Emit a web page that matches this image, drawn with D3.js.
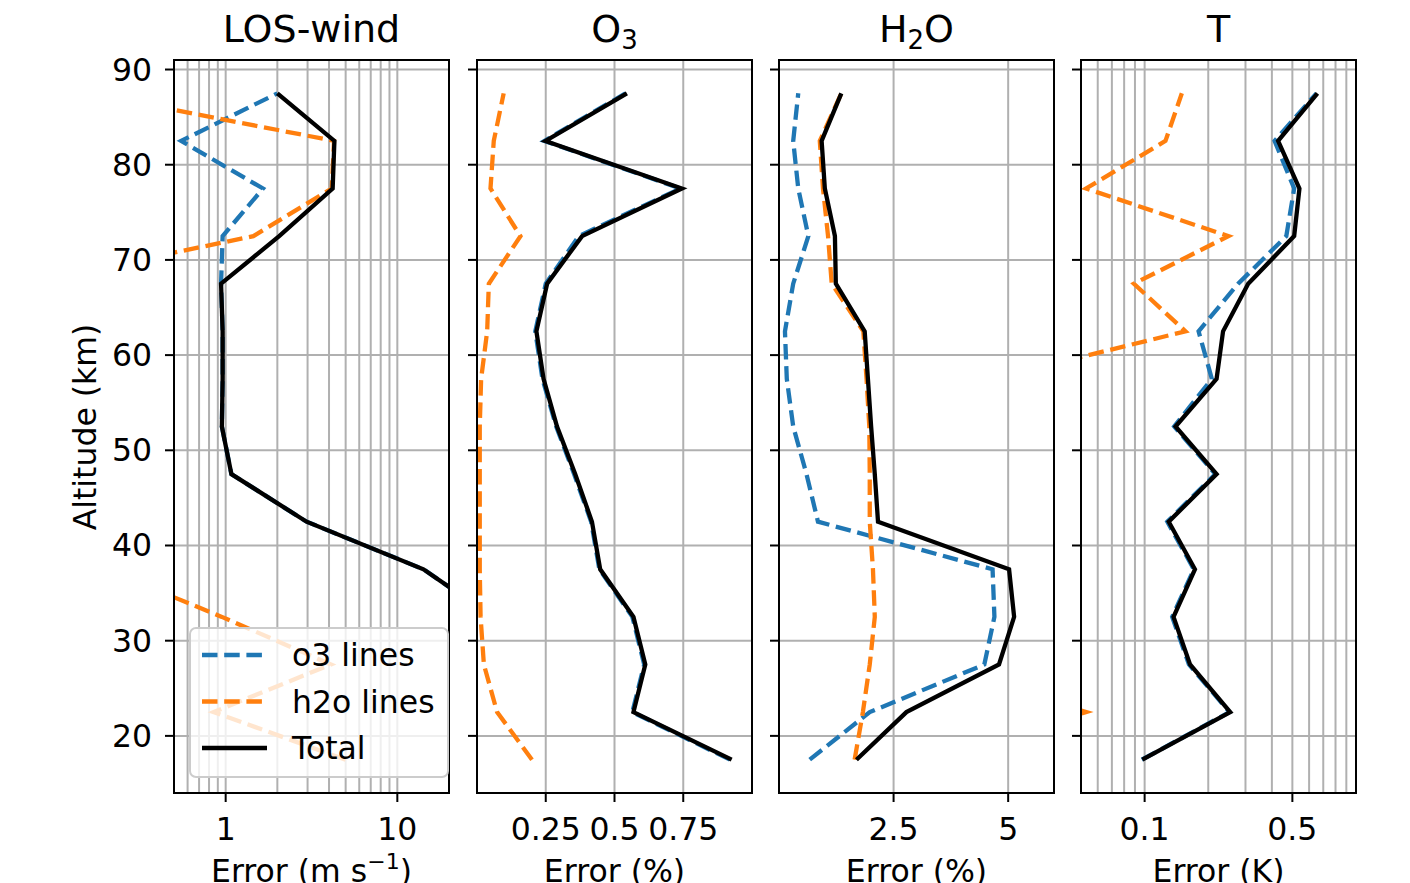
<!DOCTYPE html>
<html>
<head>
<meta charset="utf-8">
<script src="https://cdn.jsdelivr.net/npm/d3@7"></script>
<style>
	body { margin: 0; background: #fff; }
	svg { font-family: 'DejaVu Sans', sans-serif; }
</style>
</head>
<body>
<svg width="1410" height="883"></svg>
<script>
// altitudes (km), bottom to top
const altitudes = [17.5, 22.5, 27.5, 32.5, 37.5, 42.5, 47.5, 52.5, 57.5, 62.5, 67.5, 72.5, 77.5, 82.5, 87.5];

// LOS-wind error (m/s)
const windO3 = [80, 60, 50, 36, 14.2, 2.96, 1.08, 0.95, 0.96, 0.96, 0.94, 0.96, 1.65, 0.55, 2.0];
const windH2o = [5.0, 0.85, 4.1, 0.95, 0.2, 0.1, 0.08, 0.07, 0.08, 0.1, 0.067, 1.45, 4.15, 4.28, 0.16];
const windTotal = [80, 60, 50, 36, 14.2, 2.96, 1.08, 0.95, 0.96, 0.96, 0.94, 2.05, 4.2, 4.3, 2.0];

// O3 error (%)
const o3O3 = [0.92, 0.565, 0.608, 0.565, 0.445, 0.415, 0.353, 0.288, 0.238, 0.212, 0.25, 0.37, 0.74, 0.245, 0.54];
const o3H2o = [0.2, 0.073, 0.025, 0.013, 0.01, 0.01, 0.01, 0.01, 0.015, 0.037, 0.043, 0.158, 0.049, 0.061, 0.097];
const o3Total = [0.926, 0.569, 0.612, 0.569, 0.448, 0.418, 0.357, 0.291, 0.242, 0.216, 0.255, 0.382, 0.745, 0.249, 0.545];

// H2O error (%)
const h2oO3 = [0.67, 1.98, 4.48, 4.7, 4.66, 0.85, 0.6, 0.31, 0.17, 0.13, 0.31, 0.64, 0.42, 0.31, 0.42];
const h2oH2o = [1.65, 1.83, 1.98, 2.09, 2.05, 1.98, 1.98, 1.97, 1.91, 1.84, 1.15, 1.07, 0.96, 0.89, 1.36];
const h2oTotal = [1.69, 2.78, 4.8, 5.13, 5.02, 2.16, 2.09, 2.01, 1.94, 1.87, 1.24, 1.22, 1.0, 0.93, 1.36];

// T error (K)
const tO3 = [0.097, 0.252, 0.162, 0.135, 0.171, 0.128, 0.216, 0.138, 0.208, 0.18, 0.277, 0.468, 0.51, 0.412, 0.65];
const tH2o = [0.01, 0.053, 0.01, 0.008, 0.008, 0.008, 0.008, 0.008, 0.019, 0.156, 0.089, 0.249, 0.0528, 0.1255, 0.15];
const tTotal = [0.0975, 0.254, 0.164, 0.137, 0.173, 0.13, 0.219, 0.14, 0.219, 0.235, 0.309, 0.51, 0.54, 0.428, 0.657];

const yTicks = [20, 30, 40, 50, 60, 70, 80, 90];
const seriesNames = ['o3 lines', 'h2o lines', 'Total'];

const svg = d3.select('svg'),
	plotTop = 60,
	plotBottom = 793,
	panelWidth = 275,
	lefts = [174, 477, 779, 1081],
	lineWidth = 4.3,
	fontSize = 31.5,
	gridColor = '#b0b0b0',
	colors = ['#1f77b4', '#ff7f0e', '#000000'];

const panels = [
	{title: 'LOS-wind', label: 'Error (m s', labelSup: '\u22121', labelEnd: ')', log: true, domain: [0.5, 20],
		ticks: [1, 10], tickLabels: ['1', '10'], series: [windO3, windH2o, windTotal]},
	{title: 'O', sub: '3', label: 'Error (%)', log: false, domain: [0, 1],
		ticks: [0.25, 0.5, 0.75], tickLabels: ['0.25', '0.5', '0.75'], series: [o3O3, o3H2o, o3Total]},
	{title: 'H', sub: '2', titleEnd: 'O', label: 'Error (%)', log: false, domain: [0, 6],
		ticks: [2.5, 5], tickLabels: ['2.5', '5'], series: [h2oO3, h2oH2o, h2oTotal]},
	{title: 'T', label: 'Error (K)', log: true, domain: [0.05, 1],
		ticks: [0.1, 0.5], tickLabels: ['0.1', '0.5'], series: [tO3, tH2o, tTotal]}
];

const y = d3.scaleLinear().domain([14, 91]).range([plotBottom, plotTop]);

function logGrid(domain) {
	let out = [];
	for (let e = -3; e <= 3; e++) {
		for (let m = 1; m < 10; m++) {
			let v = m * Math.pow(10, e);
			if (v > domain[0] * 1.0001 && v < domain[1] * 0.9999) out.push(v);
		}
	}
	return out;
}

let defs = svg.append('defs');

panels.forEach((p, i) => {
	let x0 = lefts[i];
	let x = (p.log ? d3.scaleLog() : d3.scaleLinear()).domain(p.domain).range([x0, x0 + panelWidth]);
	let g = svg.append('g');

	defs.append('clipPath').attr('id', 'clip' + i)
		.append('rect').attr('x', x0).attr('y', plotTop).attr('width', panelWidth).attr('height', plotBottom - plotTop);

	// grid
	let gridX = p.log ? logGrid(p.domain) : p.ticks;
	g.append('g').selectAll('line').data(gridX).enter().append('line')
		.attr('x1', d => x(d)).attr('x2', d => x(d))
		.attr('y1', plotTop).attr('y2', plotBottom)
		.attr('stroke', gridColor).attr('stroke-width', 2);
	g.append('g').selectAll('line').data(yTicks).enter().append('line')
		.attr('x1', x0).attr('x2', x0 + panelWidth)
		.attr('y1', d => y(d)).attr('y2', d => y(d))
		.attr('stroke', gridColor).attr('stroke-width', 2);

	// lines
	let lines = g.append('g').attr('clip-path', `url(#clip${i})`);
	p.series.forEach((vals, k) => {
		let line = d3.line()
			.x(d => x(Math.max(d[0], 1e-4)))
			.y(d => y(d[1]));
		lines.append('path')
			.datum(vals.map((v, j) => [v, altitudes[j]]))
			.attr('d', line)
			.attr('fill', 'none')
			.attr('stroke', colors[k])
			.attr('stroke-width', lineWidth)
			.attr('stroke-linejoin', 'miter')
			.attr('stroke-dasharray', k < 2 ? '15.5,6.7' : null);
	});

	// frame
	g.append('rect').attr('x', x0).attr('y', plotTop).attr('width', panelWidth).attr('height', plotBottom - plotTop)
		.attr('fill', 'none').attr('stroke', '#000').attr('stroke-width', 2);

	// y ticks
	g.append('g').selectAll('line').data(yTicks).enter().append('line')
		.attr('x1', x0 - 9).attr('x2', x0)
		.attr('y1', d => y(d)).attr('y2', d => y(d))
		.attr('stroke', '#000').attr('stroke-width', 2);
	if (i === 0) {
		g.append('g').selectAll('text').data(yTicks).enter().append('text')
			.attr('x', 152).attr('y', d => y(d))
			.attr('text-anchor', 'end').attr('dominant-baseline', 'central')
			.attr('font-size', fontSize).text(d => d);
	}

	// x ticks
	g.append('g').selectAll('line').data(p.ticks).enter().append('line')
		.attr('x1', d => x(d)).attr('x2', d => x(d))
		.attr('y1', plotBottom).attr('y2', plotBottom + 9)
		.attr('stroke', '#000').attr('stroke-width', 2);
	g.append('g').selectAll('text').data(p.ticks).enter().append('text')
		.attr('x', d => x(d)).attr('y', 840)
		.attr('text-anchor', 'middle').attr('font-size', fontSize)
		.text((d, j) => p.tickLabels[j]);

	// x label
	let lab = g.append('text').attr('x', x0 + panelWidth / 2).attr('y', 882)
		.attr('text-anchor', 'middle').attr('font-size', fontSize);
	lab.append('tspan').text(p.label);
	if (p.labelSup) {
		lab.append('tspan').attr('font-size', 22).attr('dy', -13).text(p.labelSup);
		lab.append('tspan').attr('dy', 13).text(p.labelEnd);
	}

	// title
	let t = g.append('text').attr('x', x0 + panelWidth / 2).attr('y', 42)
		.attr('text-anchor', 'middle').attr('font-size', 38);
	t.append('tspan').text(p.title);
	if (p.sub) {
		t.append('tspan').attr('font-size', 26).attr('dy', 7).text(p.sub);
		if (p.titleEnd) t.append('tspan').attr('dy', -7).text(p.titleEnd);
	}
});

// y label
svg.append('text')
	.attr('transform', 'translate(96,427) rotate(-90)')
	.attr('text-anchor', 'middle').attr('font-size', fontSize)
	.text('Altitude (km)');

// legend
let legend = svg.append('g');
legend.append('rect')
	.attr('x', 190).attr('y', 628).attr('width', 258).attr('height', 149)
	.attr('rx', 6).attr('ry', 6)
	.attr('fill', '#fff').attr('fill-opacity', 0.8)
	.attr('stroke', '#cccccc').attr('stroke-width', 2);
seriesNames.forEach((name, k) => {
	let ly = 655 + k * 46.5;
	legend.append('line')
		.attr('x1', 202).attr('x2', 267).attr('y1', ly).attr('y2', ly)
		.attr('stroke', colors[k]).attr('stroke-width', lineWidth)
		.attr('stroke-dasharray', k < 2 ? '15.5,6.7' : null);
	legend.append('text')
		.attr('x', 292).attr('y', ly)
		.attr('dominant-baseline', 'central').attr('font-size', fontSize)
		.text(name);
});
</script>
</body>
</html>
